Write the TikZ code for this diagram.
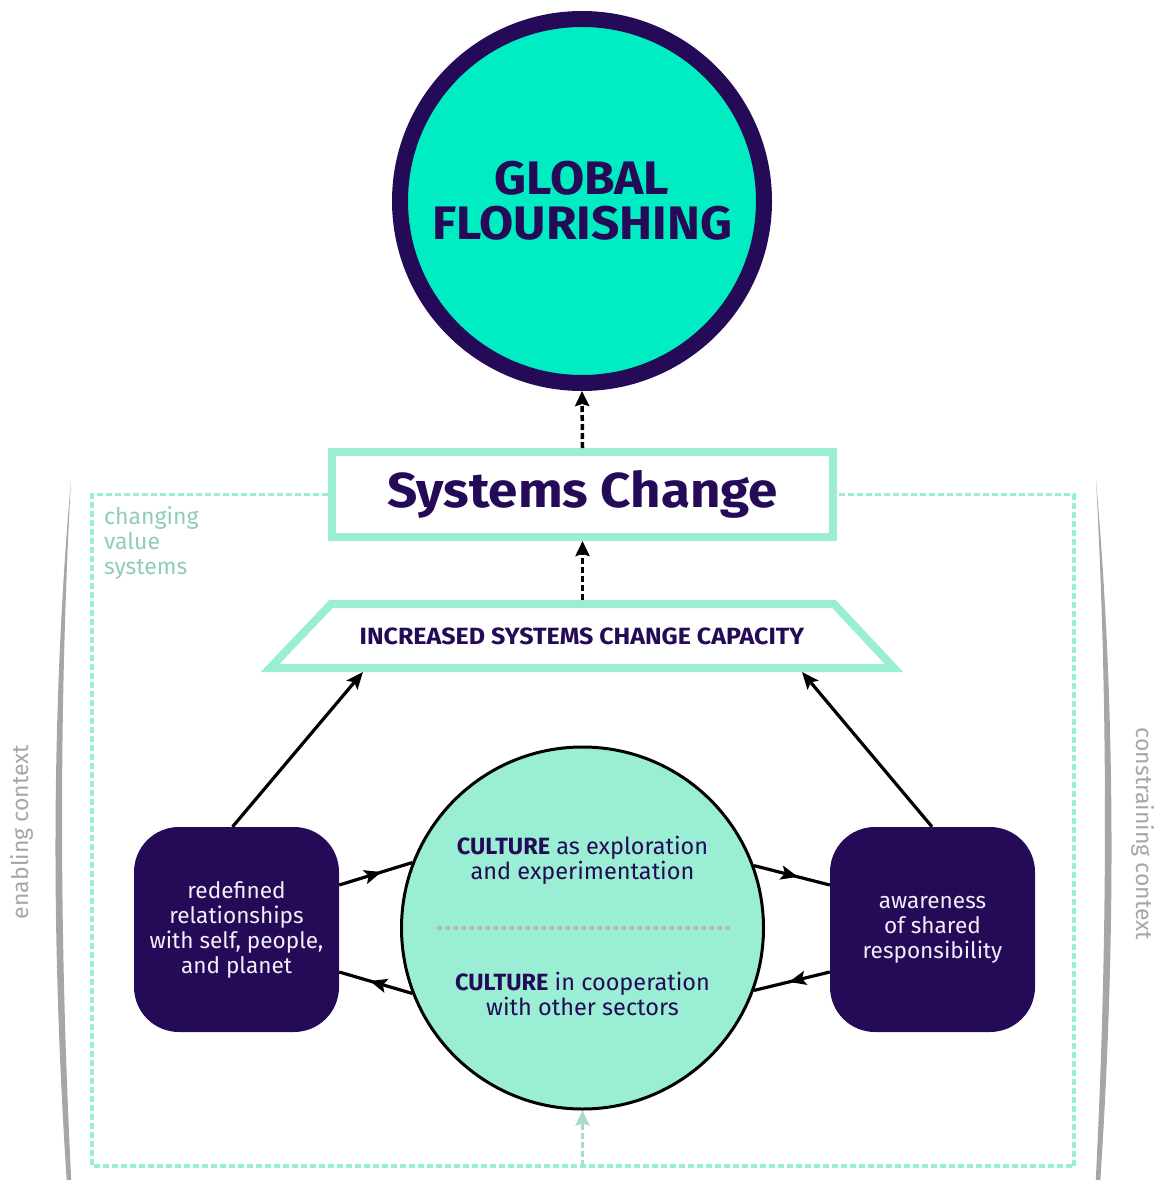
\documentclass[tikz,border=0pt]{standalone}
\usepackage{fontspec}
\setmainfont{Fira Sans}
\usetikzlibrary{arrows.meta,decorations.markings}
\definecolor{deep}{RGB}{37,10,87}
\definecolor{brightteal}{RGB}{0,237,196}
\definecolor{mint}{RGB}{153,238,211}
\definecolor{mintdark}{RGB}{166,220,200}
\definecolor{cvs}{RGB}{143,205,181}
\definecolor{sidegray}{RGB}{166,166,166}
\definecolor{boxtext}{RGB}{242,238,250}
\definecolor{divgray}{RGB}{185,185,185}
\tikzset{
  arr/.style={line width=3.2pt, -{Stealth[length=17pt,width=14pt,inset=3.5pt]}},
  midarr/.style={line width=3.2pt, decoration={markings, mark=at position #1 with {\arrow{Stealth[length=17pt,width=14pt,inset=3.5pt]}}}, postaction={decorate}},
  dasharr/.style={line width=3.5pt, dash pattern=on 6pt off 3pt, -{Stealth[length=15pt,width=14pt,inset=2pt]}},
  mintarr/.style={line width=3.5pt, draw=mintdark, dash pattern=on 6pt off 3pt, -{Stealth[length=15pt,width=14pt,inset=2pt]}},
  frame/.style={line width=3.5pt, draw=mint, dash pattern=on 6pt off 3pt},
  darkbox/.style={rounded corners=45pt, fill=deep, minimum width=205pt, minimum height=205pt, text=boxtext, align=center, font=\fontsize{22.6}{25}\selectfont, inner sep=0pt},
  circtext/.style={align=center, text=deep, font=\fontsize{23.5}{25}\selectfont, inner sep=0pt},
  sidetext/.style={text=sidegray, font=\fontsize{23}{25}\selectfont, inner sep=0pt},
  bracket/.style={fill=sidegray, draw=none},
}
\begin{document}
\begin{tikzpicture}[x=1pt,y=-1pt]
\useasboundingbox (0,0) rectangle (1158,1180);
% side brackets
\fill[bracket] (71,480) .. controls (50,720) and (52,960) .. (67,1185) -- (71.5,1185) .. controls (60,960) and (58,720) .. (71,480) -- cycle;
\fill[bracket] (1096,480) .. controls (1117,720) and (1115,960) .. (1100,1185) -- (1095.5,1185) .. controls (1107,960) and (1109,720) .. (1096,480) -- cycle;
\node[rotate=90, sidetext] (en) at (22,832) {enabling context};
\node[rotate=-90, sidetext] (co) at (1143,834) {constraining context};
% global flourishing
\node[circle, draw=deep, line width=16pt, fill=brightteal, minimum size=364pt, inner sep=0pt, align=center, text=deep, font=\fontsize{47}{45}\selectfont\bfseries] (gf) at (582,201) {\scalebox{1.055}[1]{GLOBAL}\\\scalebox{1.055}[1]{FLOURISHING}};
% systems change
\node[draw=mint, line width=8pt, fill=white, minimum width=501pt, minimum height=85pt, text=deep, font=\fontsize{49}{50}\selectfont\bfseries] (sc) at (582.5,494.5) {\scalebox{1.08}[1]{Systems Change}};
\draw[frame] (sc.west) -- ++(-236,0) |- (1074,1166) |- (sc.east);
% trapezoid
\draw[mint, line width=8pt, fill=white, line join=miter] (331,604) -- (834,604) -- (894,668) -- (270,668) -- cycle;
\node[text=deep, font=\fontsize{23.5}{25}\selectfont\bfseries, inner sep=0pt] (cap) at (582,636) {\scalebox{1.065}[1]{INCREASED SYSTEMS CHANGE CAPACITY}};
\coordinate (capL) at (363,672);
\coordinate (capR) at (802,672);
\coordinate (capT) at (582.5,600);
% center circle
\node[circle, draw=black, line width=3pt, fill=mint, minimum size=362pt, inner sep=0pt] (cc) at (582.5,928) {};
\draw[divgray, line width=3.2pt, dash pattern=on 5pt off 3pt] (437,928) -- (732,928);
\node[circtext] (c1) at (582.5,860) {\textbf{CULTURE} as exploration\\and experimentation};
\node[circtext] (c2) at (582.5,994) {\textbf{CULTURE} in cooperation\\with other sectors};
% boxes
\node[darkbox] (lb) at (236.5,929.5) {redefined\\relationships\\with self, people,\\and planet};
\node[darkbox] (rb) at (932.5,929.5) {awareness\\of shared\\responsibility};
% text
\node[anchor=north west, align=left, text=cvs, font=\fontsize{23}{25}\selectfont, inner sep=0pt] (cv) at (104,506) {changing\\value\\systems};
% connectors
\draw[dasharr] (sc.north) -- (gf.south);
\draw[dasharr] (capT) -- (sc.south);
\draw[arr] ([xshift=-4pt]lb.north) -- (capL);
\draw[arr] ([xshift=-0.5pt]rb.north) -- (capR);
\draw[midarr=0.58] ([yshift=44.5pt]lb.east) -- (cc.159);
\draw[midarr=0.58] (cc.201) -- ([yshift=-42.5pt]lb.east);
\draw[midarr=0.58] (cc.20) -- ([yshift=44.5pt]rb.west);
\draw[midarr=0.54] ([yshift=-42.5pt]rb.west) -- (cc.340);
\draw[mintarr] (cc.south |- 0,1166) -- (cc.south);
\end{tikzpicture}
\end{document}
